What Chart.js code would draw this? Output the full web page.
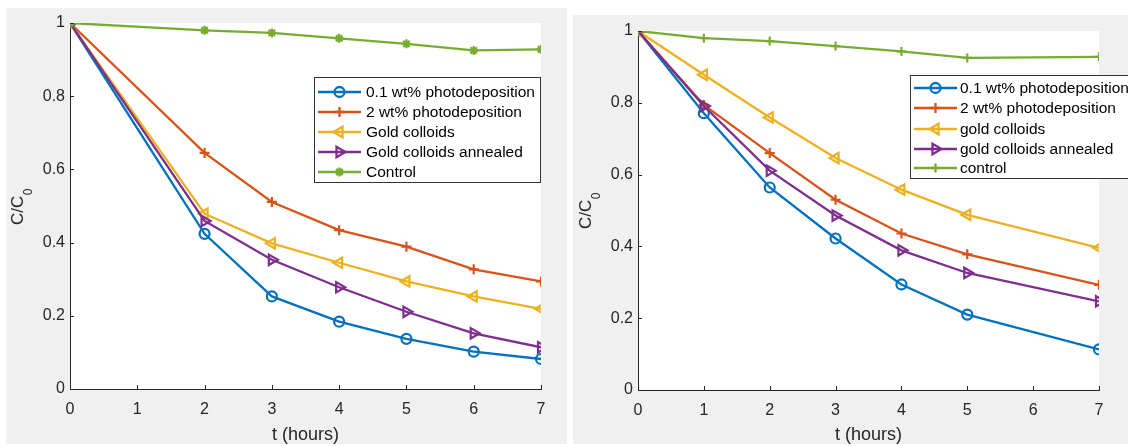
<!DOCTYPE html>
<html>
<head>
<meta charset="utf-8">
<script src="https://cdn.jsdelivr.net/npm/chart.js@4.4.0/dist/chart.umd.min.js"></script>
<style>
  body { margin: 0; background: #ffffff; }
  #wrap { position: relative; width: 1128px; height: 446px; overflow: hidden; }
  .panel { position: absolute; background: #f0f0f0; }
  canvas { position: absolute; top: 0; }
</style>
</head>
<body>
<div id="wrap">
  <div class="panel" style="left:6px;top:8px;width:561px;height:436px;"></div>
  <div class="panel" style="left:573px;top:15px;width:555px;height:429px;"></div>
  <canvas id="chartLeft" width="564" height="446" style="left:0px"></canvas>
  <canvas id="chartRight" width="564" height="446" style="left:564px"></canvas>
</div>
<script>
// ---- data, left panel ----
var leftTime = [0, 2, 3, 4, 5, 6, 7];
var leftPhoto01 = [1, 0.424, 0.253, 0.184, 0.137, 0.102, 0.082];
var leftPhoto2 = [1, 0.645, 0.511, 0.434, 0.389, 0.327, 0.294];
var leftColloids = [1, 0.479, 0.398, 0.345, 0.294, 0.253, 0.219];
var leftAnnealed = [1, 0.459, 0.353, 0.278, 0.211, 0.152, 0.114];
var leftControl = [1, 0.980, 0.973, 0.958, 0.943, 0.925, 0.928];
var leftLabels = ['0.1 wt% photodeposition', '2 wt% photodeposition', 'Gold colloids', 'Gold colloids annealed', 'Control'];

// ---- data, right panel ----
var rightTime = [0, 1, 2, 3, 4, 5, 7];
var rightPhoto01 = [1, 0.771, 0.564, 0.422, 0.294, 0.210, 0.113];
var rightPhoto2 = [1, 0.794, 0.660, 0.530, 0.436, 0.378, 0.293];
var rightColloids = [1, 0.878, 0.759, 0.646, 0.558, 0.488, 0.396];
var rightAnnealed = [1, 0.791, 0.611, 0.486, 0.389, 0.326, 0.247];
var rightControl = [1, 0.980, 0.972, 0.958, 0.943, 0.925, 0.928];
var rightLabels = ['0.1 wt% photodeposition', '2 wt% photodeposition', 'gold colloids', 'gold colloids annealed', 'control'];

var xTicks = [0, 1, 2, 3, 4, 5, 6, 7];
var yTicks = [0, 0.2, 0.4, 0.6, 0.8, 1];

var colores = ['#0072BD', '#D95319', '#EDB120', '#7E2F8E', '#77AC30'];
var axisColor = '#262626';
var fontFam = '"Liberation Sans", Arial, Helvetica, sans-serif';

function puntos(tiempo, valores) {
  return valores.map(function (v, i) { return { x: tiempo[i], y: v }; });
}

// marker style per series
var estilos = [
  { pointStyle: 'circle', rotation: 0, radius: 5 },
  { pointStyle: 'cross', rotation: 0, radius: 5 },
  { pointStyle: 'triangle', rotation: -90, radius: 6 },
  { pointStyle: 'triangle', rotation: 90, radius: 6 },
  { pointStyle: 'star', rotation: 0, radius: 4.5 }
];

function armarDatasets(tiempos, series, labels, controlStyle) {
  return series.map(function (valores, i) {
    var est = estilos[i];
    if (i === 4 && controlStyle) est = controlStyle;
    return {
      label: labels[i],
      data: puntos(tiempos[i], valores),
      borderColor: colores[i],
      backgroundColor: 'rgba(0,0,0,0)',
      borderWidth: 2.3,
      pointStyle: est.pointStyle,
      pointRotation: est.rotation,
      pointRadius: est.radius,
      pointBorderWidth: 2.2,
      pointBackgroundColor: 'rgba(0,0,0,0)',
      pointBorderColor: colores[i],
      tension: 0,
      order: 5 - i
    };
  });
}

// white plot area + inward ticks
var fondoPlugin = {
  id: 'fondo',
  beforeDraw: function (chart) {
    var a = chart.chartArea, ctx = chart.ctx;
    ctx.save();
    ctx.fillStyle = '#ffffff';
    ctx.fillRect(a.left, a.top, a.right - a.left, a.bottom - a.top);
    ctx.restore();
  },
  afterDraw: function (chart) {
    var ctx = chart.ctx, a = chart.chartArea;
    var sx = chart.scales.x, sy = chart.scales.y;
    ctx.save();
    ctx.strokeStyle = axisColor;
    ctx.lineWidth = 1;
    ctx.beginPath();
    xTicks.forEach(function (t) {
      var px = Math.round(sx.getPixelForValue(t)) + 0.5;
      ctx.moveTo(px, a.bottom);
      ctx.lineTo(px, a.bottom - 4);
    });
    yTicks.forEach(function (t) {
      var py = Math.round(sy.getPixelForValue(t)) + 0.5;
      ctx.moveTo(a.left, py);
      ctx.lineTo(a.left + 4, py);
    });
    ctx.stroke();
    ctx.restore();
  }
};

// y title C/C0 with a real subscript
function tituloY(pos) {
  return {
    id: 'tituloY',
    afterDraw: function (chart) {
      var ctx = chart.ctx;
      ctx.save();
      ctx.translate(pos.x, pos.y);
      ctx.rotate(-Math.PI / 2);
      ctx.fillStyle = axisColor;
      ctx.textBaseline = 'alphabetic';
      ctx.textAlign = 'left';
      ctx.font = '17px ' + fontFam;
      var main = 'C/C';
      var w = ctx.measureText(main).width;
      ctx.font = '12px ' + fontFam;
      var ws = ctx.measureText('0').width;
      var x0 = -(w + ws) / 2;
      ctx.font = '17px ' + fontFam;
      ctx.fillText(main, x0, 0);
      ctx.font = '12px ' + fontFam;
      ctx.fillText('0', x0 + w + 0.5, 9);
      ctx.restore();
    }
  };
}

// legend box drawn inside the axes
function leyendaPlugin(box) {
  return {
    id: 'leyenda',
    afterDraw: function (chart) {
      var ctx = chart.ctx;
      ctx.save();
      ctx.fillStyle = '#ffffff';
      ctx.fillRect(box.x, box.y, box.w, box.h);
      ctx.strokeStyle = '#333333';
      ctx.lineWidth = 1;
      ctx.strokeRect(box.x + 0.5, box.y + 0.5, box.w, box.h);
      chart.data.datasets.forEach(function (ds, i) {
        var y = box.rows[i];
        ctx.strokeStyle = ds.borderColor;
        ctx.lineWidth = 2.3;
        ctx.beginPath();
        ctx.moveTo(box.lineX0, y);
        ctx.lineTo(box.lineX1, y);
        ctx.stroke();
        ctx.fillStyle = 'rgba(0,0,0,0)';
        Chart.helpers.drawPoint(ctx, {
          pointStyle: ds.pointStyle,
          rotation: ds.pointRotation,
          radius: ds.pointRadius,
          borderWidth: 2.2
        }, (box.lineX0 + box.lineX1) / 2, y);
        ctx.fillStyle = '#000000';
        ctx.font = '15.5px ' + fontFam;
        ctx.textBaseline = 'middle';
        ctx.textAlign = 'left';
        ctx.fillText(ds.label, box.textX, y + 1);
      });
      ctx.restore();
    }
  };
}

function opciones(pad, yWidth, xHeight) {
  return {
    responsive: false,
    animation: false,
    layout: { padding: pad },
    plugins: { legend: { display: false }, tooltip: { enabled: false } },
    scales: {
      x: {
        type: 'linear', min: 0, max: 7,
        afterFit: function (s) { s.height = xHeight; },
        afterBuildTicks: function (s) { s.ticks = xTicks.map(function (v) { return { value: v }; }); },
        grid: { drawOnChartArea: false, drawTicks: false },
        border: { display: true, color: axisColor, width: 1 },
        ticks: { color: axisColor, padding: 11, font: { family: fontFam, size: 16 }, maxRotation: 0 },
        title: { display: true, text: 't (hours)', color: axisColor, padding: { top: 0, bottom: 0 }, font: { family: fontFam, size: 18 } }
      },
      y: {
        type: 'linear', min: 0, max: 1,
        afterFit: function (s) { s.width = yWidth; },
        afterBuildTicks: function (s) { s.ticks = yTicks.map(function (v) { return { value: v }; }); },
        grid: { drawOnChartArea: false, drawTicks: false },
        border: { display: true, color: axisColor, width: 1 },
        ticks: {
          color: axisColor, padding: 5, font: { family: fontFam, size: 16 },
          callback: function (v) { return String(+v.toFixed(1)); }
        },
        title: { display: false }
      }
    }
  };
}

new Chart(document.getElementById('chartLeft'), {
  type: 'line',
  data: {
    datasets: armarDatasets(
      [leftTime, leftTime, leftTime, leftTime, leftTime],
      [leftPhoto01, leftPhoto2, leftColloids, leftAnnealed, leftControl],
      leftLabels, null)
  },
  options: opciones({ left: 0, right: 23, top: 23, bottom: 0 }, 70, 57),
  plugins: [fondoPlugin, tituloY({ x: 23, y: 207 }), leyendaPlugin({
    x: 314, y: 77, w: 226, h: 105,
    rows: [92, 112, 132, 152, 172],
    lineX0: 318, lineX1: 361, textX: 366
  })]
});

new Chart(document.getElementById('chartRight'), {
  type: 'line',
  data: {
    datasets: armarDatasets(
      [rightTime, rightTime, rightTime, rightTime, rightTime],
      [rightPhoto01, rightPhoto2, rightColloids, rightAnnealed, rightControl],
      rightLabels, { pointStyle: 'cross', rotation: 0, radius: 4.5 })
  },
  options: opciones({ left: 0, right: 29, top: 31, bottom: 0 }, 74, 56),
  plugins: [fondoPlugin, tituloY({ x: 27, y: 211 }), leyendaPlugin({
    x: 346, y: 75, w: 226, h: 103,
    rows: [88, 108, 129, 149, 168],
    lineX0: 350, lineX1: 393, textX: 396
  })]
});
</script>
</body>
</html>
